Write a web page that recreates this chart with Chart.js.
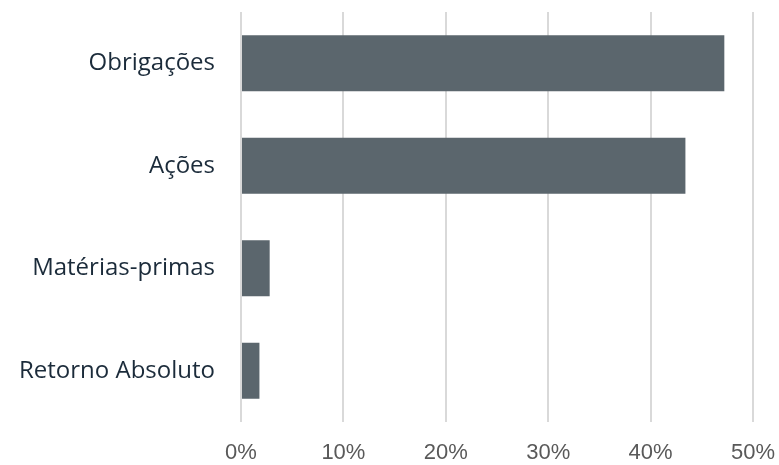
<!DOCTYPE html>
<html>
<head>
<meta charset="utf-8">
<script src="https://cdn.jsdelivr.net/npm/chart.js@4/dist/chart.umd.min.js"></script>
<style>
  html, body { margin: 0; padding: 0; background: #ffffff; }
  #wrap { width: 779px; height: 465px; position: relative; }
</style>
</head>
<body>
<div id="wrap"><canvas id="allocChart"></canvas></div>
<script>
// categories and values (percent)
const categories = ['Obrigações', 'Ações', 'Matérias-primas', 'Retorno Absoluto'];
const weights = [47.2, 43.4, 2.8, 1.8];
const xTicks = [0, 10, 20, 30, 40, 50];

const ctx = document.getElementById('allocChart').getContext('2d');
new Chart(ctx, {
    type: 'bar',
    data: {
        labels: categories,
        datasets: [{
            data: weights,
            backgroundColor: '#5b666d',
            borderWidth: 0,
            categoryPercentage: 1,
            barPercentage: 0.546
        }]
    },
    options: {
        indexAxis: 'y',
        responsive: true,
        maintainAspectRatio: false,
        animation: false,
        layout: { padding: { top: 12, right: 0, left: 0, bottom: 0 } },
        plugins: {
            legend: { display: false },
            tooltip: { enabled: false }
        },
        scales: {
            x: {
                min: 0,
                max: 50,
                afterBuildTicks: scale => {
                    scale.ticks = xTicks.map(v => ({ value: v }));
                },
                afterFit: scale => {
                    scale.height = 43;
                    scale.paddingLeft = 0;
                    scale.paddingRight = 26;
                },
                grid: { color: '#d9d9d9', lineWidth: 2, drawTicks: false },
                border: { display: false },
                ticks: {
                    padding: 18,
                    color: '#595959',
                    font: { family: 'Liberation Sans', size: 22 },
                    callback: v => v + '%'
                }
            },
            y: {
                afterFit: scale => {
                    scale.width = 241;
                    // keep label padding from shrinking the plot area
                    scale.paddingTop = 0;
                    scale.paddingBottom = 0;
                },
                grid: { display: false, drawTicks: false },
                border: { display: false },
                ticks: {
                    padding: 26,
                    color: '#1b2b3a',
                    font: { family: 'Open Sans', size: 24 }
                }
            }
        }
    }
});
</script>
</body>
</html>
